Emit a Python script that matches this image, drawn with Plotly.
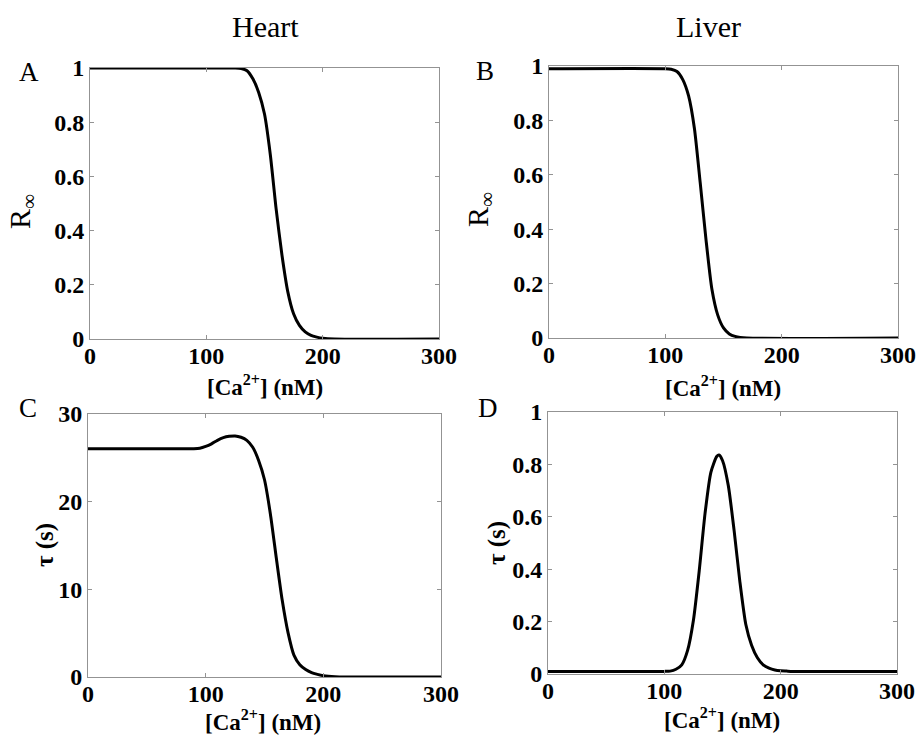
import plotly.graph_objects as go

# ---- data ----
ca_heart_R = [0, 100, 125, 130, 135, 140, 145, 150, 155, 160, 165, 170, 175, 180, 185, 190, 195, 200, 210, 300]
R_heart = [1, 1, 1, 0.998, 0.99, 0.96, 0.91, 0.83, 0.68, 0.48, 0.31, 0.175, 0.093, 0.05, 0.026, 0.013, 0.007, 0.003, 0, 0]

ca_liver_R = [0, 100, 105, 110, 115, 120, 125, 130, 135, 140, 145, 150, 155, 160, 170, 300]
R_liver = [0.99, 0.99, 0.988, 0.98, 0.95, 0.89, 0.77, 0.57, 0.36, 0.18, 0.085, 0.037, 0.015, 0.006, 0, 0]

ca_heart_tau = [0, 90, 95, 100, 105, 110, 115, 120, 125, 130, 135, 140, 145, 150, 155, 160, 165, 170, 175, 180, 185, 190, 195, 200, 210, 220, 300]
tau_heart = [26.05, 26.05, 26.1, 26.3, 26.6, 27.0, 27.3, 27.45, 27.5, 27.35, 27.0, 26.2, 24.7, 22.5, 18.6, 13.6, 8.8, 5.06, 2.5, 1.4, 0.85, 0.5, 0.3, 0.15, 0.03, 0, 0]

ca_liver_tau = [0, 100, 105, 110, 115, 120, 125, 130, 135, 140, 145, 147, 150, 155, 160, 165, 170, 175, 180, 185, 190, 195, 200, 205, 210, 300]
tau_liver = [0.01, 0.01, 0.011, 0.018, 0.035, 0.09, 0.205, 0.394, 0.613, 0.77, 0.83, 0.836, 0.815, 0.719, 0.547, 0.35, 0.19, 0.11, 0.062, 0.035, 0.022, 0.015, 0.012, 0.011, 0.01, 0.01]

x_ticks = [0, 100, 200, 300]
x_ticktext = ["0", "100", "200", "300"]
r_ticks = [0, 0.2, 0.4, 0.6, 0.8, 1]
r_ticktext = ["0", "0.2", "0.4", "0.6", "0.8", "1"]
tauH_ticks = [0, 10, 20, 30]
tauH_ticktext = ["0", "10", "20", "30"]

column_titles = ["Heart", "Liver"]
panel_letters = ["A", "B", "C", "D"]
x_title = "<b>[Ca<sup>2+</sup>] (nM)</b>"
y_title_R = "R<sub>∞</sub>"
y_title_tau = "<b>τ (s)</b>"

W, H = 917, 735
FONT = "Liberation Serif"

def px_x(p):
    return p / W

def px_y(p):
    return 1 - p / H

fig = go.Figure()
series = [
    (ca_heart_R, R_heart, "x", "y"),
    (ca_liver_R, R_liver, "x2", "y2"),
    (ca_heart_tau, tau_heart, "x3", "y3"),
    (ca_liver_tau, tau_liver, "x4", "y4"),
]
for xs, ys, xa, ya in series:
    fig.add_trace(go.Scatter(x=xs, y=ys, xaxis=xa, yaxis=ya, mode="lines",
                             line=dict(color="black", width=3, shape="spline", smoothing=0.6),
                             showlegend=False, hoverinfo="skip"))

axis_common = dict(showline=True, linecolor="#939393", linewidth=1, mirror="ticks",
                   ticks="inside", ticklen=4, tickcolor="#939393", showgrid=False, zeroline=False,
                   automargin=False,
                   tickfont=dict(family=FONT, size=24, color="black", weight="bold"))

# domains in pixels (left, right, top, bottom)
doms = {
    1: (90, 439, 68, 339),
    2: (549, 898, 66, 338),
    3: (88, 441, 414, 677),
    4: (548, 897, 412, 674),
}
yinfo = {
    1: ([0, 1], r_ticks, r_ticktext),
    2: ([0, 1], r_ticks, r_ticktext),
    3: ([0, 30], tauH_ticks, tauH_ticktext),
    4: ([0, 1], r_ticks, r_ticktext),
}
layout = dict(width=W, height=H, margin=dict(l=0, r=0, t=0, b=0, pad=0, autoexpand=False),
              paper_bgcolor="white", plot_bgcolor="white", showlegend=False)
for i, (l, r, t, b) in doms.items():
    sx = "" if i == 1 else str(i)
    yr, yt, ytt = yinfo[i]
    layout["xaxis" + sx] = dict(axis_common, domain=[px_x(l), px_x(r)], range=[0, 300],
                                tickvals=x_ticks, ticktext=x_ticktext,
                                ticklabelstandoff=-5, anchor="y" + sx)
    layout["yaxis" + sx] = dict(axis_common, domain=[px_y(b), px_y(t)], range=yr,
                                tickvals=yt, ticktext=ytt, anchor="x" + sx)
fig.update_layout(**layout)

ann = []
def add(text, x, y, size, angle=0, weight="normal"):
    ann.append(dict(text=text, x=px_x(x), y=px_y(y), xref="paper", yref="paper",
                    showarrow=False, textangle=angle, xanchor="center", yanchor="middle",
                    font=dict(family=FONT, size=size, color="black", weight=weight)))

add(column_titles[0], 265, 27, 30)
add(column_titles[1], 708, 27, 30)
for letter, (x, y) in zip(panel_letters, [(29, 72), (485, 71), (28, 408), (488, 408)]):
    add(letter, x, y, 27)
for x, y in [(265, 385), (723, 386), (263, 720), (722, 718)]:
    add(x_title, x, y, 23)
add(y_title_R, 22, 212, 30, angle=-90)
add(y_title_R, 480, 210, 30, angle=-90)
add(y_title_tau, 45, 545, 25, angle=-90)
add(y_title_tau, 497, 543, 25, angle=-90)
fig.update_layout(annotations=ann)

fig.write_html("out.html", config={"displayModeBar": False},
               post_script="document.body.style.margin='0px';")
